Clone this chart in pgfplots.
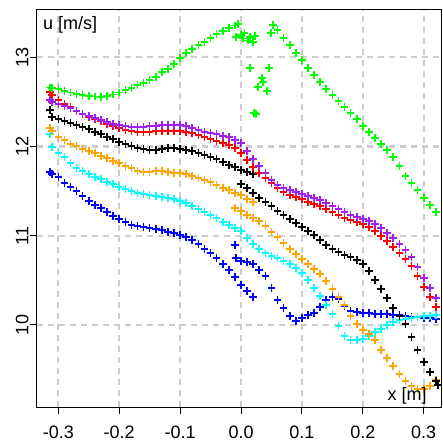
\documentclass[border=0pt]{standalone}
\usepackage{pgfplots}
\pgfplotsset{compat=1.18}
\usepackage{fontspec}
\setmainfont{Liberation Sans}
\definecolor{rpurple}{RGB}{160,32,240}
\definecolor{rorange}{RGB}{255,165,0}
\definecolor{rgrid}{RGB}{205,205,205}
\definecolor{rgreen}{RGB}{0,255,0}
\definecolor{rcyan}{RGB}{0,255,255}
\definecolor{rblue}{RGB}{0,0,255}
\definecolor{rred}{RGB}{255,0,0}
\begin{document}
\begin{tikzpicture}
\begin{axis}[
 scale only axis, width=404.3pt, height=397pt,
 xmin=-0.3355, xmax=0.3284, ymin=9.081, ymax=13.53,
 axis line style={line width=1pt},
 xtick={-0.3,-0.2,-0.1,0,0.1,0.2,0.3},
 xticklabels={-0.3,-0.2,-0.1,0.0,0.1,0.2,0.3},
 ytick={10,11,12,13}, yticklabels={10,11,12,13},
 tick align=outside, major tick length=7pt,
 xtick pos=left, ytick pos=left,
 tick style={black, line width=1pt},
 grid=major,
 grid style={rgrid, line width=2.2pt, dash pattern=on 6pt off 5pt},
 major grid style={rgrid, line width=2.2pt, dash pattern=on 6pt off 5pt},
 tick label style={font=\fontsize{18}{20}\selectfont},
 yticklabel style={rotate=90, anchor=south, inner sep=1pt},
 xticklabel style={anchor=north, inner sep=2pt, yshift=-10pt},
 every axis plot/.append style={only marks, mark=+, mark size=3.8pt, mark options={line width=1.6pt}},
 clip mode=individual,
]
% blue
\addplot[rblue] coordinates {
(-0.314,11.715)(-0.31,11.693)(-0.30,11.659)(-0.29,11.592)(-0.28,11.547)(-0.27,11.502)(-0.26,11.446)(-0.25,11.390)(-0.24,11.345)(-0.23,11.312)(-0.22,11.267)(-0.21,11.222)(-0.20,11.188)(-0.19,11.155)(-0.18,11.121)(-0.17,11.110)(-0.16,11.099)(-0.15,11.087)(-0.14,11.076)(-0.13,11.065)(-0.12,11.043)(-0.11,11.031)(-0.10,11.009)(-0.09,10.987)(-0.08,10.953)(-0.07,10.908)(-0.06,10.852)(-0.05,10.807)(-0.04,10.751)(-0.03,10.684)(-0.02,10.617)(-0.01,10.538)(0.00,10.448)(0.01,10.381)(0.02,10.314)
(-0.0099,10.897)(-0.0082,10.751)
(0.00,10.717)(0.01,10.706)(0.02,10.684)(0.03,10.617)(0.04,10.549)(0.05,10.415)(0.06,10.280)(0.07,10.191)(0.08,10.101)(0.09,10.045)(0.10,10.078)(0.11,10.112)(0.12,10.135)(0.13,10.202)(0.14,10.280)(0.15,10.314)(0.16,10.291)(0.17,10.213)(0.18,10.157)(0.19,10.146)(0.20,10.135)(0.21,10.135)(0.22,10.123)(0.23,10.123)(0.24,10.123)(0.25,10.112)(0.26,10.112)(0.27,10.101)(0.28,10.090)(0.29,10.090)(0.30,10.078)(0.31,10.078)(0.32,10.067)
};
% cyan
\addplot[rcyan] coordinates {
(-0.314,12.14)(-0.31,11.996)(-0.30,11.928)(-0.29,11.883)(-0.28,11.816)(-0.27,11.760)(-0.26,11.726)(-0.25,11.693)(-0.24,11.659)(-0.23,11.637)(-0.22,11.603)(-0.21,11.581)(-0.20,11.547)(-0.19,11.525)(-0.18,11.502)(-0.17,11.480)(-0.16,11.469)(-0.15,11.457)(-0.14,11.446)(-0.13,11.435)(-0.12,11.424)(-0.11,11.413)(-0.10,11.390)(-0.09,11.368)(-0.08,11.334)(-0.07,11.300)(-0.06,11.267)(-0.05,11.233)(-0.04,11.200)(-0.03,11.155)(-0.02,11.121)(-0.01,11.087)(0.00,11.054)(0.01,10.975)(0.02,10.908)(0.03,10.852)(0.04,10.807)(0.05,10.774)(0.06,10.751)(0.07,10.717)(0.08,10.684)(0.09,10.639)(0.10,10.583)(0.11,10.504)(0.12,10.415)(0.13,10.325)(0.14,10.224)(0.15,10.123)(0.16,9.989)(0.17,9.877)(0.18,9.832)(0.19,9.832)(0.20,9.843)(0.21,9.877)(0.22,9.922)(0.23,9.955)(0.24,10.000)(0.25,10.034)(0.26,10.056)(0.27,10.067)(0.28,10.078)(0.29,10.090)(0.30,10.101)(0.31,10.101)(0.32,10.112)
};
% orange
\addplot[rorange] coordinates {
(-0.314,12.21)(-0.31,12.175)(-0.30,12.108)(-0.29,12.074)(-0.28,12.029)(-0.27,12.007)(-0.26,11.973)(-0.25,11.951)(-0.24,11.928)(-0.23,11.895)(-0.22,11.872)(-0.21,11.839)(-0.20,11.816)(-0.19,11.782)(-0.18,11.760)(-0.17,11.726)(-0.16,11.715)(-0.15,11.715)(-0.14,11.726)(-0.13,11.726)(-0.12,11.715)(-0.11,11.704)(-0.10,11.704)(-0.09,11.693)(-0.08,11.670)(-0.07,11.648)(-0.06,11.626)(-0.05,11.603)(-0.04,11.570)(-0.03,11.536)(-0.02,11.513)(-0.01,11.480)(0.00,11.457)(0.01,11.413)(0.02,11.379)
(-0.01,11.312)(0.00,11.278)(0.01,11.233)(0.02,11.200)(0.03,11.166)(0.04,11.110)(0.05,11.043)(0.06,10.987)(0.07,10.919)(0.08,10.852)(0.09,10.796)(0.10,10.740)(0.11,10.684)(0.12,10.628)(0.13,10.572)(0.14,10.494)(0.15,10.404)(0.16,10.314)(0.17,10.224)(0.18,10.101)(0.19,10.011)(0.20,9.944)(0.21,9.899)(0.22,9.832)(0.23,9.720)(0.24,9.630)(0.25,9.540)(0.26,9.451)(0.27,9.372)(0.28,9.316)(0.29,9.283)(0.30,9.283)(0.31,9.316)(0.32,9.383)
};
% black
\addplot[black] coordinates {
(-0.314,12.41)(-0.31,12.33)(-0.30,12.309)(-0.29,12.287)(-0.28,12.265)(-0.27,12.242)(-0.26,12.220)(-0.25,12.197)(-0.24,12.164)(-0.23,12.141)(-0.22,12.108)(-0.21,12.085)(-0.20,12.052)(-0.19,12.029)(-0.18,12.007)(-0.17,11.984)(-0.16,11.973)(-0.15,11.962)(-0.14,11.962)(-0.13,11.973)(-0.12,11.984)(-0.11,11.984)(-0.10,11.973)(-0.09,11.962)(-0.08,11.951)(-0.07,11.928)(-0.06,11.906)(-0.05,11.883)(-0.04,11.861)(-0.03,11.827)(-0.02,11.794)(-0.01,11.771)(0.00,11.738)(0.01,11.715)(0.02,11.693)
(0.00,11.581)(0.01,11.536)(0.02,11.480)(0.03,11.424)(0.04,11.379)(0.05,11.334)(0.06,11.278)(0.07,11.233)(0.08,11.188)(0.09,11.143)(0.10,11.099)(0.11,11.054)(0.12,11.009)(0.13,10.953)(0.14,10.897)(0.15,10.852)(0.16,10.818)(0.17,10.785)(0.18,10.762)(0.19,10.729)(0.20,10.684)(0.21,10.605)(0.22,10.504)(0.23,10.404)(0.24,10.303)(0.25,10.191)(0.26,10.101)(0.27,10.011)(0.28,9.865)(0.29,9.720)(0.30,9.585)(0.31,9.473)(0.32,9.372)(0.3235,9.327)
};
% red
\addplot[rred] coordinates {
(-0.314,12.61)(-0.31,12.578)(-0.30,12.522)(-0.29,12.478)(-0.28,12.444)(-0.27,12.399)(-0.26,12.366)(-0.25,12.332)(-0.24,12.309)(-0.23,12.287)(-0.22,12.253)(-0.21,12.231)(-0.20,12.209)(-0.19,12.186)(-0.18,12.175)(-0.17,12.164)(-0.16,12.164)(-0.15,12.164)(-0.14,12.175)(-0.13,12.175)(-0.12,12.175)(-0.11,12.175)(-0.10,12.175)(-0.09,12.164)(-0.08,12.152)(-0.07,12.130)(-0.06,12.108)(-0.05,12.085)(-0.04,12.063)(-0.03,12.040)(-0.02,12.018)(-0.01,11.984)(0.00,11.928)(0.01,11.850)(0.02,11.771)(0.03,11.704)(0.04,11.648)(0.05,11.592)(0.06,11.536)(0.07,11.491)(0.08,11.457)(0.09,11.435)(0.10,11.413)(0.11,11.379)(0.12,11.357)(0.13,11.334)(0.14,11.300)(0.15,11.267)(0.16,11.233)(0.17,11.200)(0.18,11.177)(0.19,11.155)(0.20,11.132)(0.21,11.099)(0.22,11.054)(0.23,10.998)(0.24,10.942)(0.25,10.874)(0.26,10.807)(0.27,10.740)(0.28,10.661)(0.29,10.549)(0.30,10.426)(0.31,10.314)(0.32,10.202)
};
% purple
\addplot[rpurple] coordinates {
(-0.314,12.52)(-0.31,12.500)(-0.30,12.478)(-0.29,12.455)(-0.28,12.433)(-0.27,12.399)(-0.26,12.366)(-0.25,12.343)(-0.24,12.321)(-0.23,12.298)(-0.22,12.276)(-0.21,12.253)(-0.20,12.242)(-0.19,12.231)(-0.18,12.220)(-0.17,12.220)(-0.16,12.220)(-0.15,12.231)(-0.14,12.231)(-0.13,12.242)(-0.12,12.242)(-0.11,12.242)(-0.10,12.242)(-0.09,12.231)(-0.08,12.209)(-0.07,12.186)(-0.06,12.164)(-0.05,12.152)(-0.04,12.141)(-0.03,12.119)(-0.02,12.108)(-0.01,12.074)(0.00,12.040)(0.01,11.951)(0.02,11.861)(0.03,11.783)(0.04,11.704)(0.05,11.626)(0.06,11.570)(0.07,11.536)(0.08,11.513)(0.09,11.491)(0.10,11.469)(0.11,11.446)(0.12,11.424)(0.13,11.401)(0.14,11.368)(0.15,11.334)(0.16,11.300)(0.17,11.267)(0.18,11.233)(0.19,11.211)(0.20,11.188)(0.21,11.166)(0.22,11.132)(0.23,11.087)(0.24,11.031)(0.25,10.975)(0.26,10.908)(0.27,10.841)(0.28,10.762)(0.29,10.650)(0.30,10.527)(0.31,10.415)(0.32,10.303)
};
% green
\addplot[rgreen] coordinates {
(-0.314,12.66)(-0.31,12.657)(-0.30,12.646)(-0.29,12.623)(-0.28,12.606)(-0.27,12.590)(-0.26,12.578)(-0.25,12.567)(-0.24,12.561)(-0.23,12.556)(-0.22,12.567)(-0.21,12.584)(-0.20,12.606)(-0.19,12.634)(-0.18,12.657)(-0.17,12.691)(-0.16,12.713)(-0.15,12.747)(-0.14,12.780)(-0.13,12.836)(-0.12,12.870)(-0.11,12.926)(-0.10,12.993)(-0.09,13.049)(-0.08,13.094)(-0.07,13.139)(-0.06,13.173)(-0.05,13.217)(-0.04,13.262)(-0.03,13.296)(-0.02,13.330)(-0.01,13.358)(-0.005,13.374)
(-0.008,13.23)(0.000,13.25)(0.003,13.21)(0.006,13.27)(0.011,13.19)(0.015,13.23)(0.020,13.17)(0.023,13.24)
(0.0148,12.881)(0.046,12.881)(0.0345,12.769)(0.0361,12.724)(0.0279,12.668)(0.0427,12.623)(0.0213,12.377)(0.0246,12.365)
(0.0493,13.274)(0.0525,13.363)(0.06,13.307)(0.07,13.217)(0.08,13.139)(0.09,13.049)(0.10,12.971)(0.11,12.881)(0.12,12.803)(0.13,12.724)(0.14,12.646)(0.15,12.578)(0.16,12.511)(0.17,12.444)(0.18,12.377)(0.19,12.309)(0.20,12.231)(0.21,12.164)(0.22,12.096)(0.23,12.029)(0.24,11.962)(0.25,11.883)(0.26,11.783)(0.27,11.670)(0.28,11.592)(0.29,11.513)(0.30,11.424)(0.31,11.345)(0.32,11.267)
};
\node[anchor=west, font=\fontsize{18}{20}\selectfont, inner sep=0pt] at (rel axis cs:0.0156,0.962) {u [m/s]};
\node[anchor=center, font=\fontsize{18}{20}\selectfont, inner sep=0pt] at (rel axis cs:0.916,0.028) {x [m]};
\end{axis}
\pgfresetboundingbox
\path ([shift={(-36.7pt,-36pt)}]current axis.south west) rectangle ([shift={(1pt,10pt)}]current axis.north east);
\end{tikzpicture}
\end{document}
